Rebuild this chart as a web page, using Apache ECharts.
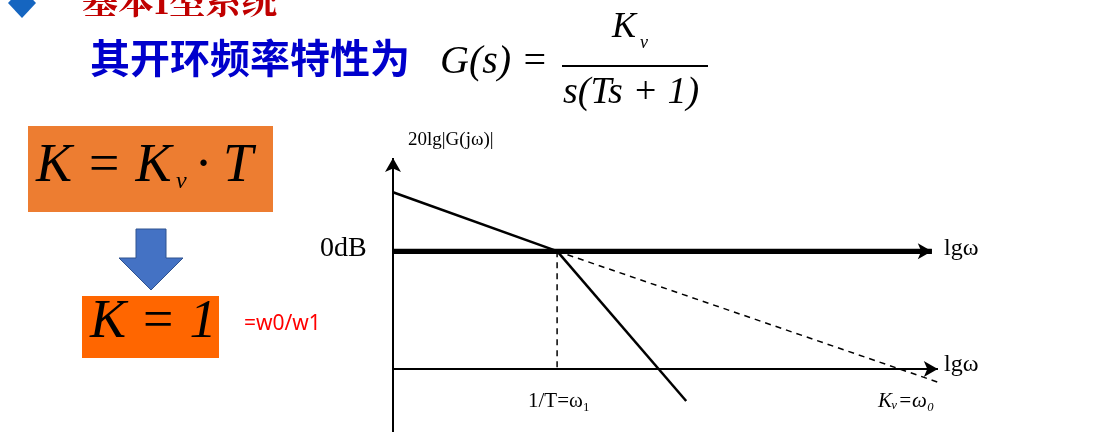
<!DOCTYPE html>
<html><head><meta charset="utf-8">
<script src="https://cdn.jsdelivr.net/npm/echarts@6/dist/echarts.min.js"></script>
<style>html,body{margin:0;background:#fff}#c{width:1104px;height:432px}</style>
</head><body><div id="c"></div>
<script>
// 折线坐标：x 为 lgω（相对单位），y 为 dB（相对单位）
var lowFreq = [[0, 21.5], [30, 0]]
var steep = [[30, 0], [53.6, -54.7]]
var dashedSlope = [[30, 0], [99.6, -47.8]]
var dropLine = [[30, 0], [30, -43]]
var zeroAxis = [[0, 0], [98.5, 0]]
var lowerAxis = [[0, -43], [99.6, -43]]
var yAxisLine = [[0, -66], [0, 34]]

var chart = echarts.init(document.getElementById('c'))
var serif = '"Liberation Serif", "DejaVu Serif", serif'
var cjk = '"Noto Sans CJK SC", sans-serif'

function line(data, w, type, arrow) {
  return {
    type: 'line', data: data, symbol: 'none', silent: true,
    lineStyle: { color: '#000', width: w, type: type || 'solid' },
    markLine: arrow ? {
      symbol: ['none', 'arrow'], symbolSize: [12, 14], silent: true, label: { show: false },
      lineStyle: { color: '#000', width: w, type: 'solid' },
      data: [[{ coord: data[0] }, { coord: data[1] }]]
    } : undefined
  }
}

chart.setOption({
  animation: false,
  grid: { left: 393, right: 164, top: 158, bottom: 0 },
  xAxis: { type: 'value', min: 0, max: 100, show: false },
  yAxis: { type: 'value', min: -66, max: 34, show: false },
  series: [
    line(yAxisLine, 2, 'solid', true),
    line(zeroAxis, 5, 'solid', true),
    line(lowerAxis, 2, 'solid', true),
    line(lowFreq, 2.5),
    line(steep, 2.5),
    line(dashedSlope, 1.5, [6, 5]),
    line(dropLine, 1.5, [6, 5])
  ],
  graphic: [
    { type: 'polygon', shape: { points: [[22, -12], [36, 3], [22, 18], [8, 3]] }, style: { fill: '#1565c0' } },
    { type: 'text', left: 82, top: -18, style: { text: '基本I型系统', fill: '#c00000', font: 'bold 36px "Noto Serif CJK SC", ' + cjk } },
    { type: 'text', left: 90, top: 38, style: { text: '其开环频率特性为', fill: '#0000cc', font: 'bold 40px ' + cjk } },
    { type: 'text', left: 440, top: 42, style: { text: 'G(s) =', fill: '#000', font: 'italic 40px ' + serif } },
    { type: 'text', left: 612, top: 10, style: { text: 'K', fill: '#000', font: 'italic 36px ' + serif } },
    { type: 'text', left: 640, top: 34, style: { text: 'v', fill: '#000', font: 'italic 18px ' + serif } },
    { type: 'rect', shape: { x: 562, y: 65, width: 146, height: 2 }, style: { fill: '#000' } },
    { type: 'text', left: 563, top: 74, style: { text: 's(Ts + 1)', fill: '#000', font: 'italic 38px ' + serif } },
    { type: 'rect', shape: { x: 28, y: 126, width: 245, height: 86 }, style: { fill: '#ed7d31' } },
    { type: 'text', left: 36, top: 140, style: { text: 'K = K', fill: '#000', font: 'italic 54px ' + serif } },
    { type: 'text', left: 176, top: 170, style: { text: 'v', fill: '#000', font: 'italic 24px ' + serif } },
    { type: 'text', left: 196, top: 140, style: { text: '· T', fill: '#000', font: 'italic 54px ' + serif } },
    { type: 'polygon', shape: { points: [[136, 229], [166, 229], [166, 258], [183, 258], [151, 290], [119, 258], [136, 258]] }, style: { fill: '#4472c4', stroke: '#2f528f', lineWidth: 1 } },
    { type: 'rect', shape: { x: 82, y: 296, width: 137, height: 62 }, style: { fill: '#ff6600' } },
    { type: 'text', left: 90, top: 296, style: { text: 'K = 1', fill: '#000', font: 'italic 54px ' + serif } },
    { type: 'text', left: 244, top: 314, style: { text: '=w0/w1', fill: '#ff0000', font: '21px "Noto Sans", sans-serif' } },
    { type: 'text', left: 408, top: 131, style: { text: '20lg|G(jω)|', fill: '#000', font: '19px ' + serif } },
    { type: 'text', left: 320, top: 235, style: { text: '0dB', fill: '#000', font: '28px ' + serif } },
    { type: 'text', left: 944, top: 237, style: { text: 'lgω', fill: '#000', font: '24px ' + serif } },
    { type: 'text', left: 944, top: 353, style: { text: 'lgω', fill: '#000', font: '24px ' + serif } },
    { type: 'text', left: 528, top: 391, style: { text: '1/T=ω₁', fill: '#000', font: '21px ' + serif } },
    { type: 'text', left: 878, top: 391, style: { text: 'Kᵥ=ω₀', fill: '#000', font: 'italic 21px ' + serif } }
  ]
})
</script>
</body></html>
